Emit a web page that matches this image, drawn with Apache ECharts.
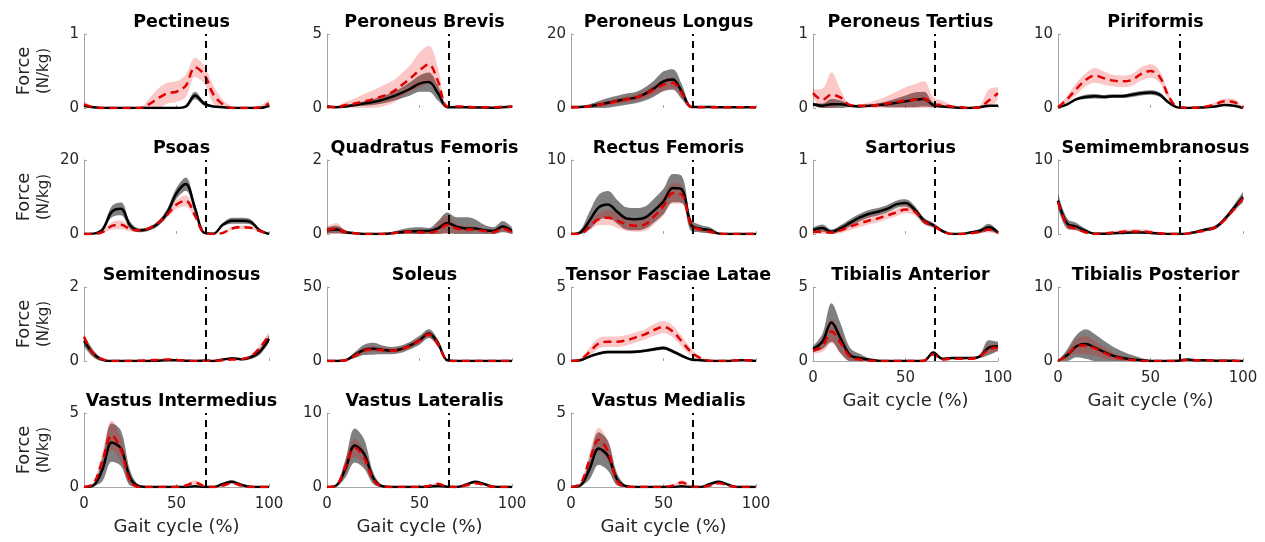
<!DOCTYPE html>
<html>
<head>
<meta charset="utf-8">
<script src="https://cdn.jsdelivr.net/npm/echarts@6/dist/echarts.min.js"></script>
<style>
  html, body { margin: 0; padding: 0; background: #fff; }
  #chart { width: 1265px; height: 542px; }
</style>
</head>
<body>
<div id="chart"></div>
<script>
// gait cycle sample points (%)
const pct = [0, 5, 10, 15, 20, 25, 30, 35, 40, 45, 50, 55, 60, 65, 70, 75, 80, 85, 90, 95, 100]
const toeOff = 66

// K = black mean / band, R = red mean / band (N/kg)
const pectK   = [0.03,0.01,0,0,0,0,0,0,0,0,0,0.02,0.17,0.06,0.02,0.01,0,0,0,0,0.03]
const pectKsd = [0.01,0.01,0,0,0,0,0,0,0,0,0,0.02,0.05,0.03,0.01,0.01,0,0,0,0,0.01]
const pectR   = [0.05,0.01,0,0,0,0,0,0.05,0.13,0.2,0.22,0.3,0.55,0.45,0.18,0.05,0,0,0,0.01,0.06]
const pectRsd = [0.04,0.01,0,0,0,0,0,0.07,0.13,0.14,0.14,0.15,0.13,0.12,0.12,0.06,0.02,0,0,0.02,0.05]

const pbK   = [0.1,0.05,0.1,0.2,0.3,0.4,0.55,0.75,1.0,1.3,1.65,1.75,1.0,0.05,0.05,0.05,0.03,0.03,0.02,0.05,0.08]
const pbKsd = [0.05,0.05,0.08,0.1,0.15,0.2,0.25,0.3,0.35,0.45,0.55,0.65,0.5,0.05,0.03,0.03,0.02,0.02,0.02,0.03,0.04]
const pbR   = [0.1,0.05,0.2,0.3,0.45,0.6,0.8,1.05,1.5,2.0,2.55,2.95,1.8,0.1,0.1,0.1,0.05,0.05,0.05,0.08,0.1]
const pbRsd = [0.05,0.05,0.2,0.35,0.5,0.6,0.7,0.75,0.8,0.9,1.2,1.25,0.9,0.1,0.05,0.05,0.05,0.05,0.05,0.05,0.05]

const plK   = [0.3,0.3,0.5,0.9,1.4,1.9,2.4,2.8,3.8,5.3,7.2,7.7,4.3,0.3,0.3,0.3,0.2,0.2,0.2,0.2,0.2]
const plKsd = [0.1,0.2,0.5,1.0,1.3,1.4,1.5,1.5,1.8,2.2,2.7,2.8,2.0,0.3,0.1,0.1,0.1,0.1,0.1,0.1,0.1]
const plR   = [0.2,0.2,0.5,0.9,1.3,1.8,2.3,2.8,3.7,5.0,6.3,6.8,4.0,0.3,0.2,0.2,0.2,0.2,0.2,0.2,0.2]
const plRsd = [0.1,0.1,0.3,0.5,0.7,0.8,0.9,1.0,1.1,1.3,1.5,1.5,1.2,0.3,0.1,0.1,0.1,0.1,0.1,0.1,0.1]

const ptK   = [0.05,0.03,0.05,0.05,0.03,0.02,0.03,0.04,0.05,0.07,0.09,0.11,0.12,0.04,0.02,0.01,0,0,0.01,0.03,0.03]
const ptKsd = [0.02,0.03,0.07,0.05,0.02,0.01,0.01,0.02,0.04,0.06,0.08,0.1,0.1,0.03,0.01,0.01,0,0,0.01,0.01,0.01]
const ptR   = [0.2,0.11,0.18,0.14,0.04,0.03,0.03,0.04,0.06,0.08,0.1,0.11,0.13,0.05,0.04,0.02,0.01,0,0.01,0.1,0.2]
const ptRsd = [0.05,0.15,0.3,0.1,0.02,0.02,0.04,0.07,0.1,0.14,0.18,0.21,0.23,0.1,0.06,0.02,0,0,0.02,0.15,0.08]

const piK   = [0.1,0.5,1.2,1.5,1.6,1.5,1.6,1.6,1.8,2.0,2.1,1.8,0.7,0.05,0,0.05,0.1,0.2,0.4,0.3,0]
const piKsd = [0.05,0.1,0.2,0.3,0.3,0.25,0.25,0.25,0.3,0.3,0.3,0.3,0.2,0.05,0,0.05,0.05,0.1,0.1,0.1,0]
const piR   = [0.1,1.2,2.6,3.8,4.4,4.0,3.7,3.6,3.8,4.6,5.0,4.2,1.5,0.1,0.05,0.05,0.2,0.5,0.9,0.8,0.05]
const piRsd = [0.1,0.5,0.8,0.9,1.0,0.9,0.8,0.8,0.8,0.9,0.9,0.8,0.5,0.1,0.05,0.05,0.1,0.3,0.4,0.4,0.05]

const psK   = [0,0.1,1.2,6.0,6.8,2.3,1.0,1.4,2.8,5.8,11.0,13.5,7.0,0.3,0.1,2.5,3.6,3.6,3.3,1.0,0]
const psKsd = [0,0.1,0.5,1.5,1.7,1.0,0.5,0.5,0.7,1.0,1.5,1.8,1.2,0.3,0.1,0.5,0.8,0.8,0.7,0.4,0]
const psR   = [0,0,0.5,2.2,2.5,1.3,1.0,1.5,3.0,5.2,8.0,9.0,5.0,0.3,0,0.3,1.5,1.8,1.7,0.8,0]
const psRsd = [0,0,0.3,1.0,1.2,0.6,0.3,0.4,0.5,0.8,1.2,1.5,1.0,0.2,0,0.2,0.4,0.5,0.4,0.3,0]

const qfK   = [0.1,0.12,0.05,0.02,0,0,0,0.02,0.05,0.07,0.08,0.08,0.15,0.3,0.2,0.15,0.15,0.1,0.08,0.2,0.08]
const qfKsd = [0.08,0.1,0.05,0.02,0,0,0,0.03,0.07,0.1,0.1,0.08,0.2,0.28,0.25,0.3,0.25,0.15,0.1,0.15,0.1]
const qfR   = [0.1,0.15,0.05,0.02,0,0,0,0.02,0.05,0.06,0.05,0.03,0.1,0.25,0.15,0.12,0.12,0.08,0.05,0.15,0.05]
const qfRsd = [0.1,0.15,0.05,0.02,0,0,0,0.02,0.04,0.05,0.05,0.04,0.2,0.25,0.12,0.1,0.08,0.05,0.05,0.08,0.05]

const rfK   = [0,0.2,1.8,3.6,4.0,3.0,2.1,2.0,2.2,3.2,4.4,6.2,6.0,1.2,0.7,0.5,0.05,0,0,0,0]
const rfKsd = [0,0.3,1.2,1.7,1.8,1.6,1.5,1.5,1.5,1.6,1.7,1.9,1.8,0.8,0.5,0.4,0.1,0,0,0,0]
const rfR   = [0,0,1.0,2.0,2.2,1.8,1.3,1.1,1.3,2.4,3.8,5.5,5.3,1.2,0.6,0.3,0.05,0,0,0,0]
const rfRsd = [0,0,0.5,0.8,1.0,1.0,0.9,0.8,0.9,1.1,1.3,1.4,1.2,0.6,0.3,0.2,0.05,0,0,0,0]

const saK   = [0.05,0.08,0.03,0.08,0.15,0.22,0.27,0.3,0.34,0.4,0.42,0.33,0.18,0.12,0.04,0,0,0.02,0.04,0.09,0.02]
const saKsd = [0.04,0.05,0.03,0.04,0.05,0.05,0.05,0.05,0.05,0.05,0.05,0.05,0.04,0.03,0.02,0,0,0.01,0.03,0.05,0.02]
const saR   = [0.03,0.03,0.02,0.05,0.1,0.14,0.18,0.21,0.25,0.29,0.33,0.3,0.17,0.11,0.04,0,0,0.01,0.03,0.06,0.02]
const saRsd = [0.03,0.03,0.02,0.04,0.05,0.05,0.05,0.05,0.05,0.05,0.05,0.05,0.04,0.03,0.02,0,0,0.01,0.02,0.04,0.02]

const smK   = [4.5,1.4,1.0,0.4,0.05,0.05,0.1,0.15,0.2,0.2,0.15,0.05,0,0,0.05,0.3,0.6,0.9,2.0,3.5,5.0]
const smKsd = [1.0,0.7,0.5,0.3,0.05,0.05,0.05,0.1,0.1,0.1,0.1,0.05,0,0,0.05,0.15,0.2,0.25,0.3,0.4,0.7]
const smR   = [4.3,1.2,0.7,0.2,0,0.1,0.2,0.3,0.35,0.35,0.25,0.1,0,0,0.05,0.25,0.5,0.9,1.9,3.3,4.8]
const smRsd = [0.5,0.4,0.3,0.1,0.05,0.1,0.2,0.25,0.3,0.3,0.25,0.1,0,0,0.05,0.1,0.2,0.2,0.3,0.3,0.4]

const stK   = [0.55,0.2,0.03,0,0,0,0,0,0.01,0.02,0.02,0.01,0,0.01,0,0.04,0.07,0.05,0.1,0.25,0.6]
const stKsd = [0.15,0.1,0.03,0,0,0,0,0,0.01,0.01,0.01,0.01,0,0.01,0,0.02,0.03,0.03,0.05,0.08,0.1]
const stR   = [0.65,0.2,0.05,0,0,0,0.01,0.02,0.03,0.04,0.03,0.01,0,0.01,0,0.02,0.04,0.05,0.12,0.35,0.7]
const stRsd = [0.1,0.08,0.03,0,0,0,0.01,0.02,0.03,0.03,0.03,0.01,0,0.01,0,0.02,0.02,0.03,0.05,0.08,0.08]

const soK   = [0,0,0.5,4.0,7.5,8.3,7.5,7.0,8.0,10.5,14.0,18.5,12.0,0.5,0,0,0,0,0,0,0]
const soKsd = [0,0,0.3,2.0,3.5,4.0,3.0,2.5,2.5,2.5,3.0,3.0,2.5,0.3,0,0,0,0,0,0,0]
const soR   = [0,0,0.5,3.5,7.0,8.0,7.3,7.0,8.0,10.3,13.8,18.0,11.5,0.5,0,0,0,0,0,0,0]
const soRsd = [0,0,0.3,1.5,2.0,2.0,1.8,1.5,1.5,1.8,2.0,2.2,2.0,0.3,0,0,0,0,0,0,0]

const tflK   = [0,0.05,0.3,0.5,0.6,0.6,0.6,0.62,0.7,0.8,0.88,0.65,0.35,0.1,0.05,0,0,0,0.05,0.05,0]
const tflKsd = [0,0.03,0.08,0.1,0.1,0.1,0.1,0.1,0.1,0.12,0.12,0.12,0.1,0.05,0.03,0,0,0,0.02,0.02,0]
const tflR   = [0,0.1,0.6,1.2,1.3,1.3,1.4,1.6,1.8,2.1,2.3,2.0,1.3,0.6,0.2,0.02,0,0,0.05,0.05,0]
const tflRsd = [0,0.05,0.3,0.35,0.35,0.35,0.35,0.35,0.35,0.4,0.4,0.4,0.35,0.25,0.1,0.03,0,0,0.02,0.02,0]

const taK   = [0.8,1.3,2.6,1.5,0.4,0.2,0.1,0.02,0,0,0,0,0.02,0.55,0.15,0.2,0.2,0.2,0.3,0.9,1.0]
const taKsd = [0.2,0.5,1.3,1.0,0.5,0.3,0.1,0.02,0,0,0,0,0.02,0.15,0.05,0.05,0.05,0.05,0.1,0.5,0.3]
const taR   = [0.7,1.0,2.0,1.2,0.3,0.1,0.03,0,0,0,0,0,0.02,0.45,0.1,0.15,0.15,0.15,0.3,0.8,0.9]
const taRsd = [0.2,0.4,0.8,0.7,0.3,0.1,0.03,0,0,0,0,0,0.02,0.1,0.05,0.05,0.05,0.05,0.1,0.3,0.3]

const tpK   = [0,0.8,2.0,2.3,1.8,1.2,0.7,0.4,0.2,0.1,0,0,0,0.05,0.2,0.1,0.1,0.05,0.03,0.02,0]
const tpKsd = [0,0.8,1.5,2.0,1.8,1.5,1.2,0.9,0.6,0.3,0.1,0,0,0.05,0.1,0.05,0.05,0.02,0.02,0.01,0]
const tpR   = [0,0.8,2.0,2.1,1.7,1.1,0.6,0.3,0.15,0.05,0,0,0,0.05,0.15,0.1,0.1,0.05,0.03,0.02,0]
const tpRsd = [0,0.5,1.0,1.2,1.0,0.8,0.5,0.3,0.2,0.1,0,0,0,0.05,0.1,0.05,0.05,0.02,0.02,0.01,0]

const viK   = [0,0.1,1.2,3.0,2.6,0.6,0.05,0,0,0,0,0,0.05,0,0,0.2,0.35,0.15,0.02,0,0]
const viKsd = [0,0.05,0.8,1.3,1.2,0.5,0.05,0,0,0,0,0,0.03,0,0,0.05,0.1,0.05,0,0,0]
const viR   = [0,0.2,1.8,3.5,2.5,0.4,0,0,0,0,0,0.1,0.3,0.05,0,0.1,0.25,0.1,0,0,0]
const viRsd = [0,0.1,0.6,1.0,0.8,0.3,0,0,0,0,0,0.05,0.15,0.03,0,0.05,0.05,0.03,0,0,0]

const vlK   = [0,0.2,2.5,5.6,4.5,1.2,0.1,0,0,0,0,0.05,0.15,0.05,0,0.3,0.7,0.4,0.05,0,0]
const vlKsd = [0,0.1,1.2,2.3,2.0,0.8,0.1,0,0,0,0,0.03,0.05,0.03,0,0.1,0.15,0.1,0.02,0,0]
const vlR   = [0,0.2,2.8,5.3,4.0,1.0,0.05,0,0,0,0,0.15,0.4,0.05,0,0.2,0.5,0.3,0,0,0]
const vlRsd = [0,0.1,1.0,1.2,1.0,0.5,0.05,0,0,0,0,0.1,0.2,0.03,0,0.05,0.1,0.05,0,0,0]

const vmK   = [0,0.1,1.2,2.6,2.1,0.5,0.05,0,0,0,0,0,0.05,0,0,0.2,0.35,0.15,0,0,0]
const vmKsd = [0,0.05,0.7,1.1,1.0,0.4,0.05,0,0,0,0,0,0.03,0,0,0.05,0.08,0.05,0,0,0]
const vmR   = [0,0.2,1.8,3.2,2.4,0.4,0,0,0,0,0,0.1,0.3,0.05,0,0.1,0.25,0.1,0,0,0]
const vmRsd = [0,0.1,0.5,0.8,0.7,0.3,0,0,0,0,0,0.05,0.15,0.03,0,0.05,0.05,0.03,0,0,0]

const panels = [
  {name: 'Pectineus', ymax: 1, k: pectK, kSd: pectKsd, r: pectR, rSd: pectRsd},
  {name: 'Peroneus Brevis', ymax: 5, k: pbK, kSd: pbKsd, r: pbR, rSd: pbRsd},
  {name: 'Peroneus Longus', ymax: 20, k: plK, kSd: plKsd, r: plR, rSd: plRsd},
  {name: 'Peroneus Tertius', ymax: 1, k: ptK, kSd: ptKsd, r: ptR, rSd: ptRsd},
  {name: 'Piriformis', ymax: 10, k: piK, kSd: piKsd, r: piR, rSd: piRsd},
  {name: 'Psoas', ymax: 20, k: psK, kSd: psKsd, r: psR, rSd: psRsd},
  {name: 'Quadratus Femoris', ymax: 2, k: qfK, kSd: qfKsd, r: qfR, rSd: qfRsd},
  {name: 'Rectus Femoris', ymax: 10, k: rfK, kSd: rfKsd, r: rfR, rSd: rfRsd},
  {name: 'Sartorius', ymax: 1, k: saK, kSd: saKsd, r: saR, rSd: saRsd},
  {name: 'Semimembranosus', ymax: 10, k: smK, kSd: smKsd, r: smR, rSd: smRsd},
  {name: 'Semitendinosus', ymax: 2, k: stK, kSd: stKsd, r: stR, rSd: stRsd},
  {name: 'Soleus', ymax: 50, k: soK, kSd: soKsd, r: soR, rSd: soRsd},
  {name: 'Tensor Fasciae Latae', ymax: 5, k: tflK, kSd: tflKsd, r: tflR, rSd: tflRsd},
  {name: 'Tibialis Anterior', ymax: 5, k: taK, kSd: taKsd, r: taR, rSd: taRsd},
  {name: 'Tibialis Posterior', ymax: 10, k: tpK, kSd: tpKsd, r: tpR, rSd: tpRsd},
  {name: 'Vastus Intermedius', ymax: 5, k: viK, kSd: viKsd, r: viR, rSd: viRsd},
  {name: 'Vastus Lateralis', ymax: 10, k: vlK, kSd: vlKsd, r: vlR, rSd: vlRsd},
  {name: 'Vastus Medialis', ymax: 5, k: vmK, kSd: vmKsd, r: vmR, rSd: vmRsd}
]

const colLeft = [84, 327, 571, 813, 1058]
const rowTop = [34, 160, 287, 413]
const plotW = 185, plotH = 74
const bottomPanels = [13, 14, 15, 16, 17]
const font = 'DejaVu Sans'
const axisGray = '#a6a6a6'

const chart = echarts.init(document.getElementById('chart'))
const grid = [], xAxis = [], yAxis = [], title = [], series = []

panels.forEach((p, i) => {
  const col = i % 5, row = Math.floor(i / 5)
  const isBottom = bottomPanels.indexOf(i) >= 0
  grid.push({left: colLeft[col], top: rowTop[row], width: plotW, height: plotH})
  title.push({
    text: p.name, left: colLeft[col] + plotW / 2, top: rowTop[row] - 26, textAlign: 'center',
    textStyle: {fontFamily: font, fontSize: 17.5, fontWeight: 'bold', color: '#000'}
  })
  xAxis.push({
    gridIndex: i, type: 'value', min: 0, max: 100, interval: 50,
    axisLine: {show: isBottom, lineStyle: {color: axisGray}},
    axisTick: {show: true, inside: true, length: 3, lineStyle: {color: axisGray}},
    axisLabel: {show: isBottom, fontFamily: font, fontSize: 15, color: '#262626', margin: 10},
    splitLine: {show: false},
    name: isBottom ? 'Gait cycle (%)' : '', nameLocation: 'middle', nameGap: 31,
    nameTextStyle: {fontFamily: font, fontSize: 18, color: '#262626'}
  })
  yAxis.push({
    gridIndex: i, type: 'value', min: 0, max: p.ymax, interval: p.ymax,
    axisLine: {show: true, lineStyle: {color: axisGray}},
    axisTick: {show: true, inside: true, length: 3, lineStyle: {color: axisGray}},
    axisLabel: {fontFamily: font, fontSize: 15, color: '#262626', margin: 5},
    splitLine: {show: false},
    name: col === 0 ? '{a|Force}\n{b|(N/kg)}' : '', nameLocation: 'middle', nameGap: 30, nameRotate: 90,
    nameTextStyle: {
      color: '#262626',
      rich: {
        a: {fontFamily: font, fontSize: 18, lineHeight: 22, color: '#262626'},
        b: {fontFamily: font, fontSize: 15, lineHeight: 19, color: '#262626'}
      }
    }
  })

  // bands: y stored in column 0 so the stack adds on y, x read from column 1
  const lower = (m, s) => m.map((v, j) => [Math.max(0, v - s[j]), pct[j]])
  const width = (m, s) => m.map((v, j) => [v + s[j] - Math.max(0, v - s[j]), pct[j]])
  const pts = arr => arr.map((v, j) => [pct[j], v])
  const base = {type: 'line', xAxisIndex: i, yAxisIndex: i, symbol: 'none', smooth: 0.35, silent: true}
  const bandBase = Object.assign({}, base, {encode: {x: 1, y: 0}, lineStyle: {opacity: 0}})

  series.push(Object.assign({}, bandBase, {data: lower(p.k, p.kSd), stack: 'k' + i}))
  series.push(Object.assign({}, bandBase, {data: width(p.k, p.kSd), stack: 'k' + i,
    areaStyle: {color: 'rgba(0,0,0,0.5)', opacity: 1}}))
  series.push(Object.assign({}, bandBase, {data: lower(p.r, p.rSd), stack: 'r' + i}))
  series.push(Object.assign({}, bandBase, {data: width(p.r, p.rSd), stack: 'r' + i,
    areaStyle: {color: 'rgba(235,0,0,0.22)', opacity: 1}}))
  series.push(Object.assign({}, base, {
    data: pts(p.k), lineStyle: {color: '#000', width: 2.5},
    markLine: {
      silent: true, symbol: ['none', 'none'], label: {show: false},
      lineStyle: {color: '#000', type: [7, 5], width: 2},
      data: [{xAxis: toeOff}]
    }
  }))
  series.push(Object.assign({}, base, {data: pts(p.r), lineStyle: {color: '#e00000', width: 2.5, type: [8, 5]}}))
})

chart.setOption({animation: false, title, grid, xAxis, yAxis, series})
</script>
</body>
</html>
